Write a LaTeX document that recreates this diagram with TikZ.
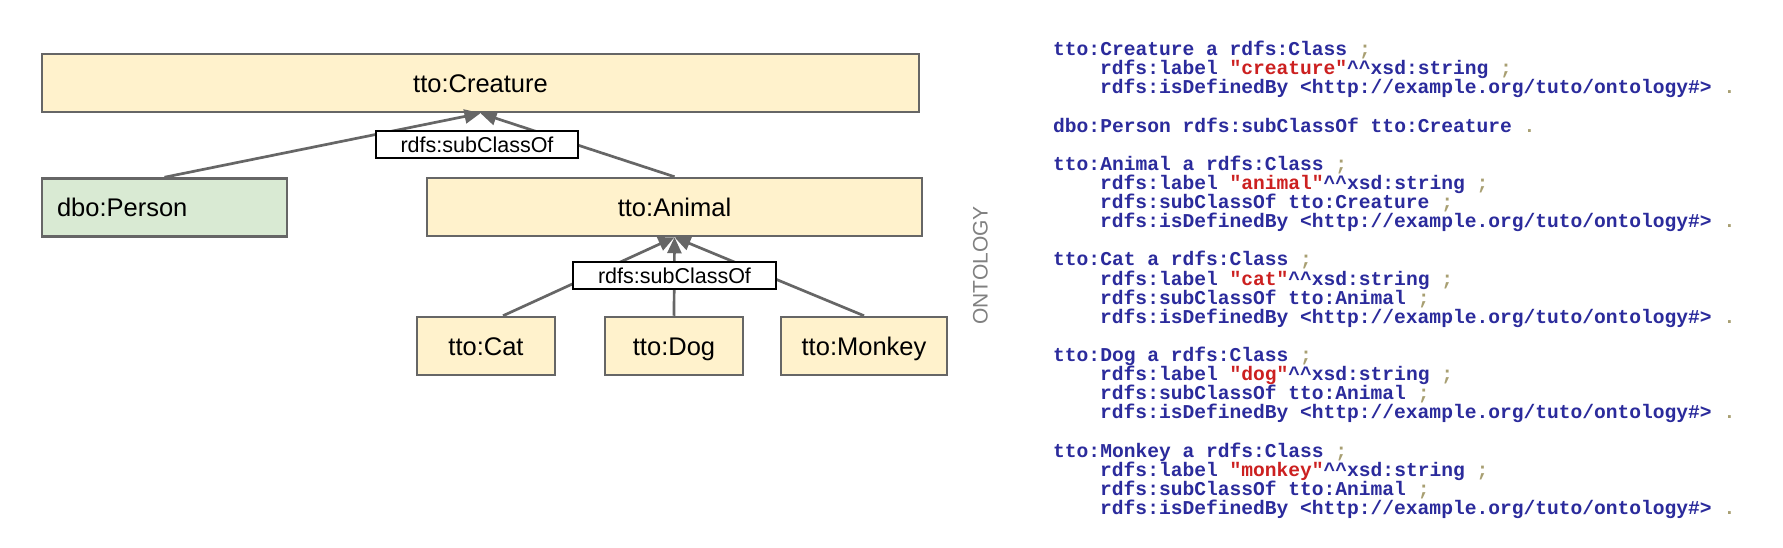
\documentclass[tikz,border=0pt]{standalone}
\usepackage{fontspec}
\usetikzlibrary{arrows.meta}
\newfontfamily\arialf{Liberation Sans}
\newfontfamily\monof{Liberation Mono}
\definecolor{boxyel}{HTML}{FFF2CC}
\definecolor{boxgrn}{HTML}{D9EAD3}
\definecolor{edgegr}{HTML}{666666}
\definecolor{codeblue}{HTML}{2B2B9C}
\definecolor{codered}{HTML}{CC2020}
\definecolor{codepun}{HTML}{A89F72}
\definecolor{ontogr}{HTML}{808080}
\newcommand{\qs}[1]{\textcolor{codered}{"#1"}}
\newcommand{\pu}[1]{\textcolor{codepun}{#1}}
\newcommand{\hh}{\textasciicircum\textasciicircum}
\tikzset{
  classbox/.style={draw=edgegr, line width=2.5pt, rectangle, inner sep=0pt, minimum height=58pt,
    text height=18.3pt, text depth=0pt, font=\arialf\fontsize{25.5pt}{30pt}\selectfont, fill=boxyel},
  relbox/.style={draw=black, line width=1.3pt, fill=white, inner sep=0pt, minimum width=202pt,
    minimum height=27pt, text height=15.4pt, text depth=0pt, font=\arialf\fontsize{21.5pt}{26pt}\selectfont},
  subof/.style={draw=edgegr, line width=2.7pt, -{Triangle[length=16pt,width=14pt]}},
  codeline/.style={anchor=base west, inner sep=0pt, text=codeblue, font=\monof\bfseries\fontsize{19.6pt}{19pt}\selectfont},
}
\begin{document}
\begin{tikzpicture}[x=1pt,y=-1pt]
\fill[white] (0,0) rectangle (1783,548);
\useasboundingbox (0,0) rectangle (1783,548);
% class boxes
\node[classbox, minimum width=877pt] (creature) at (480.5,83) {tto:Creature};
\node[classbox, fill=boxgrn, minimum width=245pt, text width=215pt, inner xsep=15pt, align=left] (person) at (164.5,207.5) {dbo:Person};
\node[classbox, minimum width=495pt] (animal) at (674.5,207) {tto:Animal};
\node[classbox, minimum width=138pt] (cat) at (486,346) {tto:Cat};
\node[classbox, minimum width=138pt] (dog) at (674,346) {tto:Dog};
\node[classbox, minimum width=166pt] (monkey) at (864,346) {tto:Monkey};
% connectors
\draw[subof] (person.north) -- (creature.south);
\draw[subof] (animal.north) -- (creature.south);
\draw[subof] ([xshift=17pt]cat.north) -- (animal.south);
\draw[subof] (dog.north) -- (animal.south);
\draw[subof] (monkey.north) -- (animal.south);
% relation labels
\node[relbox] (rel1) at (477,144.5) {rdfs:subClassOf};
\node[relbox, minimum width=203pt] (rel2) at (674.5,275.5) {rdfs:subClassOf};
% side label
\node[rotate=90, text=ontogr, inner sep=0pt, font=\arialf\fontsize{21pt}{24pt}\selectfont] (onto) at (980.5,265.5) {ONTOLOGY};
% code
\node[codeline] (c0) at (1053,55.7) {tto:Creature a rdfs:Class \pu{;}};
\node[codeline] (c1) at (1100,74.8) {rdfs:label \qs{creature}\hh xsd:string \pu{;}};
\node[codeline] (c2) at (1100,93.9) {rdfs:isDefinedBy <http://example.org/tuto/ontology\#> \pu{.}};
\node[codeline] (c4) at (1053,132.1) {dbo:Person rdfs:subClassOf tto:Creature \pu{.}};
\node[codeline] (c6) at (1053,170.4) {tto:Animal a rdfs:Class \pu{;}};
\node[codeline] (c7) at (1100,189.5) {rdfs:label \qs{animal}\hh xsd:string \pu{;}};
\node[codeline] (c8) at (1100,208.6) {rdfs:subClassOf tto:Creature \pu{;}};
\node[codeline] (c9) at (1100,227.7) {rdfs:isDefinedBy <http://example.org/tuto/ontology\#> \pu{.}};
\node[codeline] (c11) at (1053,265.9) {tto:Cat a rdfs:Class \pu{;}};
\node[codeline] (c12) at (1100,285.0) {rdfs:label \qs{cat}\hh xsd:string \pu{;}};
\node[codeline] (c13) at (1100,304.1) {rdfs:subClassOf tto:Animal \pu{;}};
\node[codeline] (c14) at (1100,323.2) {rdfs:isDefinedBy <http://example.org/tuto/ontology\#> \pu{.}};
\node[codeline] (c16) at (1053,361.5) {tto:Dog a rdfs:Class \pu{;}};
\node[codeline] (c17) at (1100,380.6) {rdfs:label \qs{dog}\hh xsd:string \pu{;}};
\node[codeline] (c18) at (1100,399.7) {rdfs:subClassOf tto:Animal \pu{;}};
\node[codeline] (c19) at (1100,418.8) {rdfs:isDefinedBy <http://example.org/tuto/ontology\#> \pu{.}};
\node[codeline] (c21) at (1053,457.0) {tto:Monkey a rdfs:Class \pu{;}};
\node[codeline] (c22) at (1100,476.1) {rdfs:label \qs{monkey}\hh xsd:string \pu{;}};
\node[codeline] (c23) at (1100,495.2) {rdfs:subClassOf tto:Animal \pu{;}};
\node[codeline] (c24) at (1100,514.3) {rdfs:isDefinedBy <http://example.org/tuto/ontology\#> \pu{.}};
\end{tikzpicture}
\end{document}
